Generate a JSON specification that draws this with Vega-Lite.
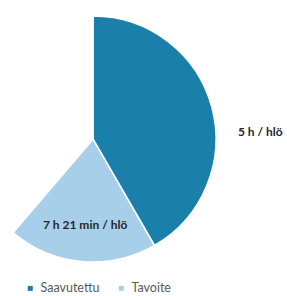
{
  "$schema": "https://vega.github.io/schema/vega-lite/v6.json",
  "width": 186,
  "height": 278,
  "autosize": {"type": "none"},
  "padding": {"left": 0, "top": 0, "right": 101, "bottom": 18},
  "background": "white",
  "config": {"view": {"stroke": null}, "font": "Lato"},
  "data": {
    "values": [
      {"sarja": "Saavutettu", "arvo": 5, "teksti": "5 h / hlö"},
      {"sarja": "Tavoite", "arvo": 2.35, "teksti": "7 h 21 min / hlö"},
      {"sarja": "Muu", "arvo": 4.65, "teksti": ""}
    ]
  },
  "encoding": {
    "theta": {"field": "arvo", "type": "quantitative", "stack": true},
    "order": {"field": "o", "type": "quantitative"}
  },
  "transform": [
    {"calculate": "datum.sarja === 'Saavutettu' ? 1 : datum.sarja === 'Tavoite' ? 2 : 3", "as": "o"}
  ],
  "layer": [
    {
      "mark": {"type": "arc", "outerRadius": 123, "stroke": "white", "strokeWidth": 1.5},
      "encoding": {
        "color": {
          "field": "sarja",
          "type": "nominal",
          "scale": {"domain": ["Saavutettu", "Tavoite", "Muu"], "range": ["#1a7fa9", "#a8cfea", "rgba(255,255,255,0)"]},
          "legend": {
            "values": ["Saavutettu", "Tavoite"],
            "title": null,
            "orient": "none",
            "direction": "horizontal",
            "legendX": 24,
            "legendY": 282,
            "symbolType": "square",
            "symbolSize": 25,
            "symbolStrokeWidth": 0,
            "labelFont": "Lato",
            "labelFontSize": 12.5,
            "labelColor": "#595959",
            "labelOffset": 4,
            "columnPadding": 15
          }
        }
      }
    },
    {
      "mark": {"type": "text", "radius": 167, "dx": 6, "dy": 36, "fontWeight": "bold", "fontSize": 12, "color": "#262626", "align": "center", "baseline": "middle"},
      "encoding": {"text": {"condition": {"test": "datum.sarja === 'Saavutettu'", "field": "teksti"}, "value": ""}}
    },
    {
      "mark": {"type": "text", "radius": 86, "fontWeight": "bold", "fontSize": 12, "color": "#262626", "align": "center", "baseline": "middle"},
      "encoding": {"text": {"condition": {"test": "datum.sarja === 'Tavoite'", "field": "teksti"}, "value": ""}}
    }
  ]
}
